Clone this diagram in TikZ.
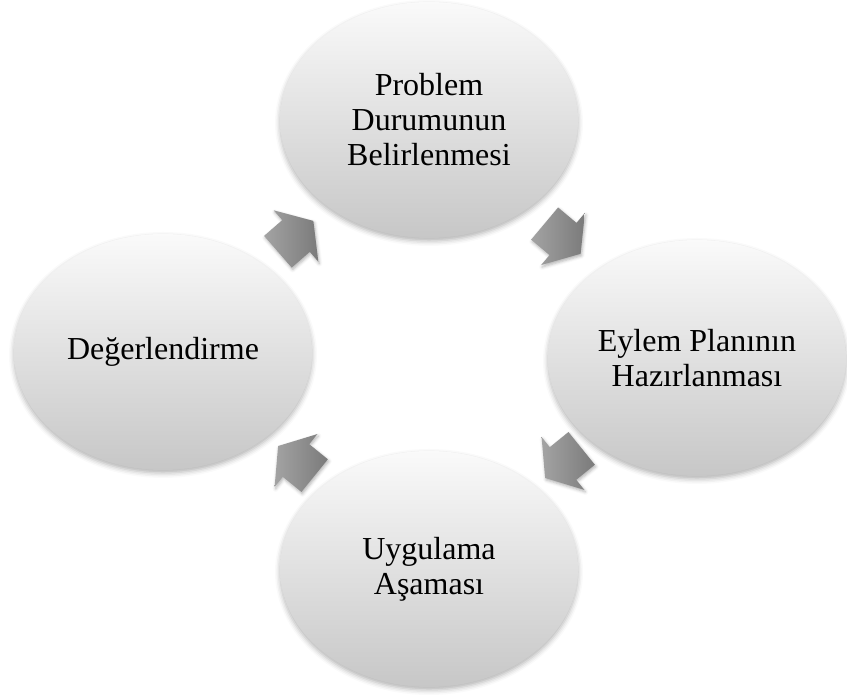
\documentclass[tikz,border=0pt]{standalone}
\usepackage{fontspec}
\setmainfont{Liberation Serif}
\usetikzlibrary{shapes.geometric,shadows.blur,calc}
\begin{document}
\begin{tikzpicture}[x=1pt,y=1pt,
  stage/.style={ellipse, minimum width=298pt, minimum height=236pt, inner sep=0pt,
    top color=white!98!black, middle color=black!7, bottom color=black!22, draw=none, align=center,
    font=\fontsize{32}{35}\selectfont, text=black,
    blur shadow={shadow xshift=0pt, shadow yshift=-3pt, shadow blur radius=5pt, shadow opacity=30}},
  cyclearrow/.pic={
    \path[left color=black!36, right color=black!52,
      blur shadow={shadow xshift=1pt, shadow yshift=-2pt, shadow blur radius=3pt, shadow opacity=30}]
      (-24,-21) -- (0,-21) -- (0,-34) -- (23,0) -- (0,34) -- (0,21) -- (-24,21) -- cycle;
  }
]
\useasboundingbox (0,0) rectangle (847,695);
\node[stage] (T) at (429,575) {Problem\\Durumunun\\Belirlenmesi};
\node[stage] (R) at (697,337) {Eylem Planının\\Hazırlanması};
\node[stage] (B) at (429,126) {Uygulama\\Aşaması};
\node[stage] (L) at (163,343) {Değerlendirme};
\pic[rotate=41] at ($(L)!0.5!(T)$) {cyclearrow};
\pic[rotate=-40] at ($(T)!0.5!(R)$) {cyclearrow};
\pic[rotate=219] at ($(R)!0.5!(B)$) {cyclearrow};
\pic[rotate=141] at ($(B)!0.5!(L)$) {cyclearrow};
\end{tikzpicture}
\end{document}
